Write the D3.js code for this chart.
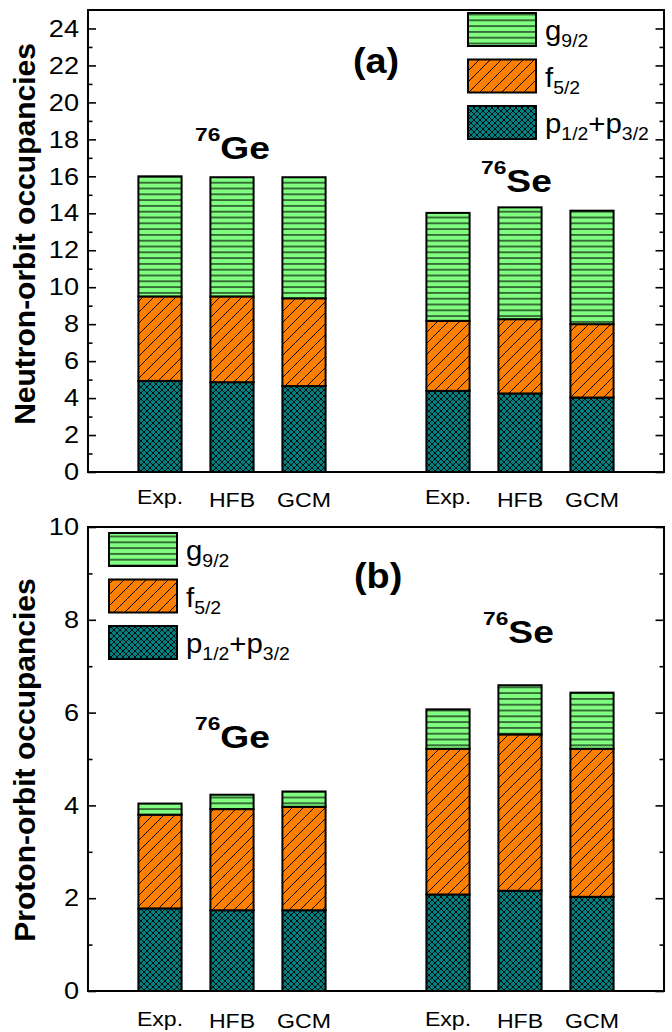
<!DOCTYPE html>
<html><head><meta charset="utf-8">
<script src="https://cdn.jsdelivr.net/npm/d3@7"></script>
<style>
body{margin:0;background:#fff}
text{font-family:Arial,"Liberation Sans",sans-serif;fill:#000}
</style>
</head><body>
<svg id="c" width="672" height="1032"></svg>
<script>
// ---------------- data ----------------
const nuclei = ["76Ge", "76Se"];
const methods = ["Exp.", "HFB", "GCM"];
const orbitKeys = ["p", "f", "g"]; // stacking order, bottom to top
// neutron-orbit occupancies (Ge: Exp, HFB, GCM; Se: Exp, HFB, GCM)
const neutronP = [4.93, 4.86, 4.65, 4.39, 4.25, 4.03];
const neutronF = [4.57, 4.64, 4.75, 3.79, 4.02, 3.97];
const neutronG = [6.50, 6.45, 6.55, 5.84, 6.05, 6.14];
// proton-orbit occupancies
const protonP = [1.78, 1.74, 1.74, 2.08, 2.16, 2.03];
const protonF = [2.02, 2.18, 2.23, 3.14, 3.37, 3.19];
const protonG = [0.24, 0.31, 0.33, 0.85, 1.06, 1.21];
const neutronTicks = [0, 2, 4, 6, 8, 10, 12, 14, 16, 18, 20, 22, 24];
const protonTicks = [0, 2, 4, 6, 8, 10];
const legendLabels = [
  {key: "g", parts: [["g", 0], ["9/2", 1]]},
  {key: "f", parts: [["f", 0], ["5/2", 1]]},
  {key: "p", parts: [["p", 0], ["1/2", 1], ["+", 0], ["p", 0], ["3/2", 1]]}
];

// ---------------- styles ----------------
const fills = {g: "url(#patG)", f: "url(#patF)", p: "url(#patP)"};
const svg = d3.select("#c");
const defs = svg.append("defs");
function pattern(id, w, h, bg, d, sw) {
  const p = defs.append("pattern").attr("id", id).attr("patternUnits", "userSpaceOnUse")
    .attr("width", w).attr("height", h);
  p.append("rect").attr("width", w).attr("height", h).attr("fill", bg);
  p.append("path").attr("d", d).attr("stroke", "#000").attr("stroke-width", sw).attr("fill", "none");
}
pattern("patG", 8, 5.8, "#80FF80", "M0,2.9H8", 1.1);
pattern("patF", 11, 11, "#FF8000", "M0,11L11,0M-2,2L2,-2M9,13L13,9", 1);
pattern("patP", 6, 6, "#008080", "M0,0L6,6M6,0L0,6M-1,1L1,-1M5,7L7,5M-1,5L1,7M5,-1L7,1", 0.9);

function stretchedText(g, x, y, sx) {
  return g.append("g").attr("transform", `translate(${x},${y}) scale(${sx},1)`).append("text");
}

function drawPanel(cfg) {
  const {top, bottom, left, right, domainMax, ticks, P, F, G} = cfg;
  const g = svg.append("g");
  const y = d3.scaleLinear().domain([0, domainMax]).range([bottom, top]);
  const xGroup = d3.scaleBand().domain(nuclei).range([left, right]).paddingInner(0.5).paddingOuter(0.25);
  const xIn = d3.scalePoint().domain(methods).range([0, xGroup.bandwidth()]);
  const barW = xIn.step() * 0.6;

  const rows = [];
  nuclei.forEach((n, i) => methods.forEach((m, j) => {
    const k = i * 3 + j;
    rows.push({nucleus: n, method: m, p: P[k], f: F[k], g: G[k]});
  }));
  const stacked = d3.stack().keys(orbitKeys)(rows);
  stacked.forEach(layer => {
    g.selectAll(null).data(layer).enter().append("rect")
      .attr("x", d => xGroup(d.data.nucleus) + xIn(d.data.method) - barW / 2)
      .attr("width", barW)
      .attr("y", d => y(d[1]))
      .attr("height", d => y(d[0]) - y(d[1]))
      .attr("fill", fills[layer.key])
      .attr("stroke", "#000").attr("stroke-width", 2);
  });

  // axes
  const minor = d3.range(1, domainMax, 2);
  const ax = g.append("g").attr("transform", `translate(${left},0)`)
    .call(d3.axisLeft(y).tickValues(ticks).tickSize(-8).tickPadding(8).tickFormat(d3.format("d")));
  ax.select(".domain").remove();
  ax.selectAll("line").attr("stroke-width", 1.6);
  ax.selectAll("text").attr("font-size", 24).attr("transform", "scale(1.13,1)");
  const axm = g.append("g").attr("transform", `translate(${left},0)`)
    .call(d3.axisLeft(y).tickValues(minor).tickSize(-4.5).tickFormat(""));
  axm.select(".domain").remove();
  axm.selectAll("line").attr("stroke-width", 1.6);
  const axr = g.append("g").attr("transform", `translate(${right},0)`)
    .call(d3.axisRight(y).tickValues(ticks).tickSize(-8.5).tickFormat(""));
  axr.select(".domain").remove();
  axr.selectAll("line").attr("stroke-width", 1.6);
  const axrm = g.append("g").attr("transform", `translate(${right},0)`)
    .call(d3.axisRight(y).tickValues(minor).tickSize(-4.5).tickFormat(""));
  axrm.select(".domain").remove();
  axrm.selectAll("line").attr("stroke-width", 1.6);

  // frame
  g.append("rect").attr("x", left).attr("y", top).attr("width", right - left).attr("height", bottom - top)
    .attr("fill", "none").attr("stroke", "#000").attr("stroke-width", 2);

  // category labels
  nuclei.forEach(n => methods.forEach((m, j) => {
    const cx = xGroup(n) + xIn(m);
    stretchedText(g, cx, bottom + (j === 0 ? cfg.labOff : cfg.labOff + 2.5), 1.1)
      .attr("text-anchor", "middle").attr("font-size", 21).text(m);
  }));

  // y title
  g.append("text").attr("transform", `translate(${cfg.titleX},${cfg.titleY}) rotate(-90)`)
    .attr("text-anchor", "middle").attr("font-size", 30).attr("font-weight", "bold").text(cfg.title);

  // panel letter
  stretchedText(g, cfg.letterX, cfg.letterY, 1.08).attr("font-size", 35).attr("font-weight", "bold").text(cfg.letter);

  // nucleus labels
  cfg.nucPos.forEach((pos, i) => {
    const t = stretchedText(g, pos[0], pos[1], 1.2).attr("font-weight", "bold");
    const mass = nuclei[i].slice(0, 2), sym = nuclei[i].slice(2);
    t.append("tspan").attr("font-size", 19).attr("dy", -18).text(mass);
    t.append("tspan").attr("font-size", 31).attr("dy", 18).text(sym);
  });

  // legend
  legendLabels.forEach((L, i) => {
    const by = cfg.legY + i * 46.5;
    g.append("rect").attr("x", cfg.legX).attr("y", by).attr("width", 68).attr("height", 33)
      .attr("fill", fills[L.key]).attr("stroke", "#000").attr("stroke-width", 2);
    const t = stretchedText(g, cfg.legX + 77, by + 27, 1.05).attr("font-size", 28);
    let cur = 0;
    L.parts.forEach(([s, sub]) => {
      const dy = (sub ? 7 : 0) - cur;
      cur = sub ? 7 : 0;
      t.append("tspan").attr("dy", dy).attr("font-size", sub ? 18.5 : 28).text(s);
    });
  });
}

drawPanel({
  top: 10, bottom: 472, left: 88, right: 664, domainMax: 25, ticks: neutronTicks,
  P: neutronP, F: neutronF, G: neutronG, labOff: 32,
  title: "Neutron-orbit occupancies", titleX: 35, titleY: 234,
  letter: "(a)", letterX: 353, letterY: 73,
  nucPos: [[195, 159], [481, 192]],
  legX: 468, legY: 13
});
drawPanel({
  top: 527, bottom: 991, left: 88, right: 664, domainMax: 10, ticks: protonTicks,
  P: protonP, F: protonF, G: protonG, labOff: 34.5,
  title: "Proton-orbit occupancies", titleX: 35, titleY: 760,
  letter: "(b)", letterX: 354, letterY: 588,
  nucPos: [[195, 748], [483, 643]],
  legX: 109, legY: 533
});
</script>
</body></html>
